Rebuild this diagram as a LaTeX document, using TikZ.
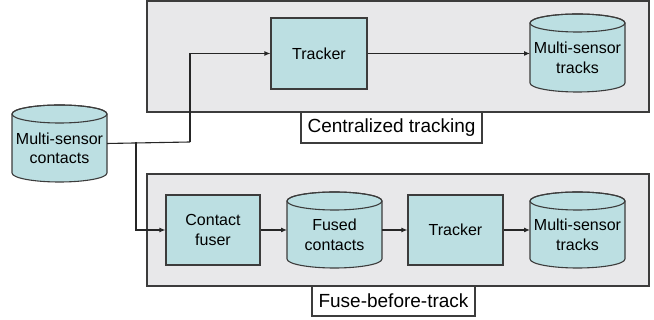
\documentclass[tikz,border=0pt]{standalone}
\usepackage{fontspec}
\setmainfont{Liberation Sans}
\usetikzlibrary{arrows.meta}
\definecolor{panelfill}{HTML}{E8E8EA}
\definecolor{boxfill}{HTML}{BCDFE2}
\definecolor{edge}{HTML}{3C3C3C}
\tikzset{
  panel/.style={draw=edge, line width=1.3pt, fill=panelfill},
  caption/.style={draw=edge, line width=1.1pt, fill=white, inner sep=0pt,
    font=\fontsize{19}{21}\selectfont},
  procbox/.style={draw=edge, line width=1.1pt, fill=boxfill, inner sep=0pt,
    align=center, font=\fontsize{16}{19.5}\selectfont},
  drumbody/.style={draw=edge, line width=1.1pt, fill=boxfill},
  drumtext/.style={inner sep=0pt, align=center, font=\fontsize{16}{19.5}\selectfont},
  flow/.style={draw=black!85, line width=1.1pt, -{Latex[length=6pt,width=5pt]}},
  link/.style={draw=black!85, line width=1.1pt}
}
% \drum{name}{x left}{y bottom}{x right}{y top}{text}
\newcommand\drum[6]{%
  \pgfmathsetmacro\drumrx{(#4-#2)/2}%
  \pgfmathsetmacro\drumcx{(#2+#4)/2}%
  \pgfmathsetmacro\drumcy{(#3+#5)/2}%
  \path[drumbody] (#2,{#5-9}) -- (#2,{#3+9})
    arc[start angle=180, end angle=360, x radius=\drumrx pt, y radius=9pt]
    -- (#4,{#5-9})
    arc[start angle=0, end angle=180, x radius=\drumrx pt, y radius=9pt] -- cycle;
  \draw[edge, line width=1.1pt] (\drumcx,{#5-9}) ellipse[x radius=\drumrx pt, y radius=9pt];
  \node[drumtext, minimum width={(#4-#2)*1pt}] (#1) at (\drumcx,{\drumcy-5}) {#6};
  \coordinate (#1-w) at (#2,\drumcy);
  \coordinate (#1-e) at (#4,\drumcy);
}
\begin{document}
\begin{tikzpicture}[x=1pt, y=1pt]
  \useasboundingbox (0,0) rectangle (654,320);

  % panels
  \path[panel] (147,208) rectangle (649,319);
  \path[panel] (147,34) rectangle (649,146);
  \node[caption, minimum width=181pt, minimum height=31pt] (capA) at (391.5,192.5) {Centralized tracking};
  \node[caption, minimum width=163pt, minimum height=30pt] (capB) at (393.5,19) {Fuse-before-track};

  % source store
  \drum{src}{12}{138}{107}{215}{Multi-sensor\\contacts}

  % centralized tracking
  \node[procbox, minimum width=96pt, minimum height=71pt] (trkA) at (319,266.5) {Tracker};
  \drum{mstA}{530}{228}{625}{306}{Multi-sensor\\tracks}

  % fuse-before-track
  \node[procbox, minimum width=94pt, minimum height=70pt] (fuse) at (213,90) {Contact\\fuser};
  \drum{fused}{287}{52}{382}{128}{Fused\\contacts}
  \node[procbox, minimum width=95pt, minimum height=70pt] (trkB) at (455.5,90) {Tracker};
  \drum{mstB}{530}{52}{625}{128}{Multi-sensor\\tracks}

  % connectors
  \coordinate (jB) at (136,178);
  \coordinate (jA) at (190,178);
  \draw[link] (src-e) -- (jA);
  \draw[flow] (jA) |- (trkA.west);
  \draw[flow] (jB) |- (fuse.west);
  \draw[flow] (trkA.east) -- (trkA.east -| mstA-w);
  \draw[flow] (fuse.east) -- (fuse.east -| fused-w);
  \draw[flow] (fused-e |- trkB.west) -- (trkB.west);
  \draw[flow] (trkB.east) -- (trkB.east -| mstB-w);
\end{tikzpicture}
\end{document}
